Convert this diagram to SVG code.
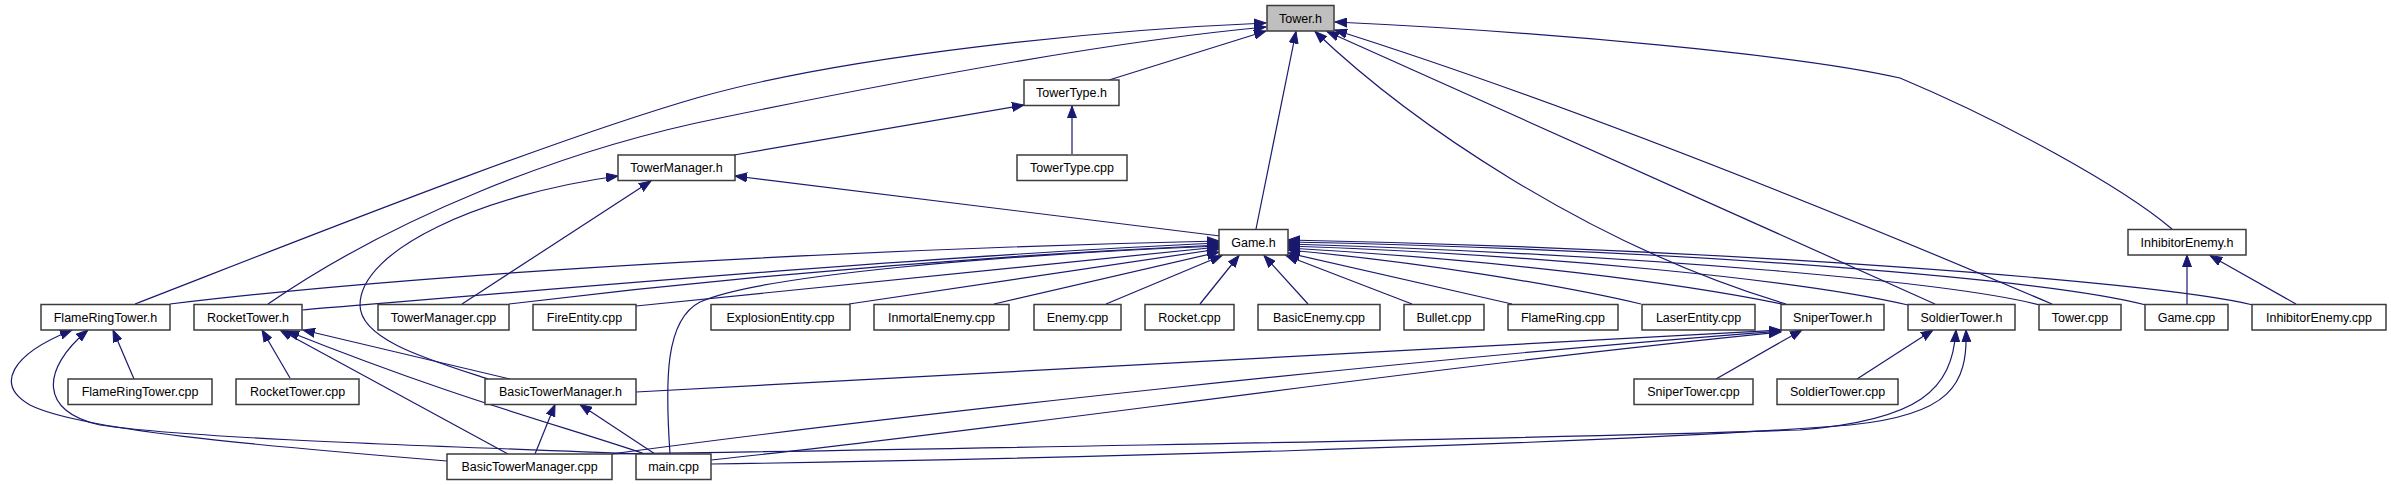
<svg xmlns="http://www.w3.org/2000/svg" width="2391" height="485" viewBox="0 0 2391 485">
<style>
.n rect{fill:#fff;stroke:#3c3c3c;stroke-width:1.5}
.n.root rect{fill:#bfbfbf}
.n text{font-family:"Liberation Sans",Arial,sans-serif;font-size:12.5px;text-anchor:middle;fill:#000}
#edges path{fill:none;stroke:#191970;stroke-width:1.2;marker-end:url(#ah)}
</style>
<defs>
<marker id="ah" markerUnits="userSpaceOnUse" markerWidth="13" markerHeight="10" viewBox="0 0 13 10" refX="12" refY="5" orient="auto">
<path d="M0,0.5 L12,5 L0,9.5 z" fill="#191970" stroke="#191970" stroke-width="1"/>
</marker>
</defs>
<rect width="2391" height="485" fill="#fff"/>
<g id="edges">
<path d="M135,304 C300,240 550,140 700,97 C850,55 1100,30 1266,23"/>
<path d="M268,304 C390,220 560,150 720,118 C880,85 1100,42 1266,27"/>
<path d="M1109,80 L1266,31"/>
<path d="M1256,229 L1296,31.5"/>
<path d="M1786,304 C1586,244 1408,120 1315,31.5"/>
<path d="M1935,304 L1327,31.5"/>
<path d="M2052,304 Q1620,120 1335,30"/>
<path d="M2172,229 C2120,185 2000,120 1900,78 C1800,55 1550,32 1335,22"/>
<path d="M734,155 L1024,105"/>
<path d="M1072,154 L1072,106"/>
<path d="M1220,236 L735,176"/>
<path d="M462,304 L651,181"/>
<path d="M488,379 C430,360 360,340 360,305 C360,250 480,195 618,176"/>
<path d="M2187,304 L2187,255"/>
<path d="M2296,304 L2210,255.5"/>
<path d="M170,304 C450,270 900,248 1219,241"/>
<path d="M302,310 C600,285 950,255 1219,243"/>
<path d="M509,304 C750,275 1000,255 1219,245"/>
<path d="M636,306 L1219,247"/>
<path d="M670,454 C665,380 665,320 700,302 C760,275 1000,255 1219,246"/>
<path d="M849,304 L1219,249"/>
<path d="M994,304 L1219,252"/>
<path d="M1106,304 L1222,255.5"/>
<path d="M1200,304 L1239,255.5"/>
<path d="M1308,304 L1264,255.5"/>
<path d="M1412,304 L1286,255.5"/>
<path d="M1512,304 L1288,253"/>
<path d="M1641,304 C1560,285 1420,262 1288,250"/>
<path d="M1782,304 C1680,283 1500,260 1288,248"/>
<path d="M1908,305 C1800,280 1550,255 1288,246"/>
<path d="M2040,305 C1950,282 1650,255 1288,244"/>
<path d="M2146,305 C2050,280 1700,250 1288,242"/>
<path d="M2253,305 C2150,280 1700,248 1288,240"/>
<path d="M1716,379 L1802,330"/>
<path d="M636,392 L1781,330"/>
<path d="M611,454 C900,415 1400,360 1781,331"/>
<path d="M711,460 C1000,430 1400,370 1781,332"/>
<path d="M1857,379 L1933,330"/>
<path d="M612,454 C750,452 1500,440 1800,430 C1920,420 1952,390 1956,330"/>
<path d="M711,464 C1000,460 1600,445 1850,425 C1950,415 1968,385 1966,330"/>
<path d="M134,379 L113,330"/>
<path d="M447,461 C250,445 80,430 30,405 C-5,385 10,355 72,330"/>
<path d="M640,454 C500,448 200,440 100,425 C40,412 40,370 88,330"/>
<path d="M290,378 L262,330"/>
<path d="M508,454 L280,330"/>
<path d="M645,454 C560,425 460,400 287,331"/>
<path d="M510,379 L303,330"/>
<path d="M535,454 L555,404.5"/>
<path d="M655,454 L580,404.5"/>
</g>
<g id="tower_h" class="n root"><rect x="1267" y="5.5" width="67" height="25.5"/><text x="1300.5" y="22.5">Tower.h</text></g>
<g id="towertype_h" class="n"><rect x="1024" y="80" width="95" height="25.5"/><text x="1071.5" y="97">TowerType.h</text></g>
<g id="towermanager_h" class="n"><rect x="618" y="155" width="117" height="25.5"/><text x="676.5" y="172">TowerManager.h</text></g>
<g id="towertype_cpp" class="n"><rect x="1017" y="155" width="110" height="25.5"/><text x="1072" y="172">TowerType.cpp</text></g>
<g id="game_h" class="n"><rect x="1219" y="229.5" width="69" height="25.5"/><text x="1253.5" y="246.5">Game.h</text></g>
<g id="inhibitorenemy_h" class="n"><rect x="2128" y="229.5" width="118" height="25.5"/><text x="2187" y="246.5">InhibitorEnemy.h</text></g>
<g id="flameringtower_h" class="n"><rect x="41" y="304.5" width="129" height="25.5"/><text x="105.5" y="321.5">FlameRingTower.h</text></g>
<g id="rockettower_h" class="n"><rect x="194" y="304.5" width="108" height="25.5"/><text x="248" y="321.5">RocketTower.h</text></g>
<g id="towermanager_cpp" class="n"><rect x="378" y="304.5" width="131" height="25.5"/><text x="443.5" y="321.5">TowerManager.cpp</text></g>
<g id="fireentity_cpp" class="n"><rect x="533" y="304.5" width="103" height="25.5"/><text x="584.5" y="321.5">FireEntity.cpp</text></g>
<g id="explosionentity_cpp" class="n"><rect x="711" y="304.5" width="139" height="25.5"/><text x="780.5" y="321.5">ExplosionEntity.cpp</text></g>
<g id="inmortalenemy_cpp" class="n"><rect x="874" y="304.5" width="135" height="25.5"/><text x="941.5" y="321.5">InmortalEnemy.cpp</text></g>
<g id="enemy_cpp" class="n"><rect x="1034" y="304.5" width="87" height="25.5"/><text x="1077.5" y="321.5">Enemy.cpp</text></g>
<g id="rocket_cpp" class="n"><rect x="1145" y="304.5" width="89" height="25.5"/><text x="1189.5" y="321.5">Rocket.cpp</text></g>
<g id="basicenemy_cpp" class="n"><rect x="1258" y="304.5" width="122" height="25.5"/><text x="1319" y="321.5">BasicEnemy.cpp</text></g>
<g id="bullet_cpp" class="n"><rect x="1404" y="304.5" width="80" height="25.5"/><text x="1444" y="321.5">Bullet.cpp</text></g>
<g id="flamering_cpp" class="n"><rect x="1508" y="304.5" width="110" height="25.5"/><text x="1563" y="321.5">FlameRing.cpp</text></g>
<g id="laserentity_cpp" class="n"><rect x="1642" y="304.5" width="113" height="25.5"/><text x="1698.5" y="321.5">LaserEntity.cpp</text></g>
<g id="snipertower_h" class="n"><rect x="1781" y="304.5" width="103" height="25.5"/><text x="1832.5" y="321.5">SniperTower.h</text></g>
<g id="soldiertower_h" class="n"><rect x="1908" y="304.5" width="107" height="25.5"/><text x="1961.5" y="321.5">SoldierTower.h</text></g>
<g id="tower_cpp" class="n"><rect x="2039" y="304.5" width="82" height="25.5"/><text x="2080" y="321.5">Tower.cpp</text></g>
<g id="game_cpp" class="n"><rect x="2145" y="304.5" width="83" height="25.5"/><text x="2186.5" y="321.5">Game.cpp</text></g>
<g id="inhibitorenemy_cpp" class="n"><rect x="2252" y="304.5" width="134" height="25.5"/><text x="2319" y="321.5">InhibitorEnemy.cpp</text></g>
<g id="flameringtower_cpp" class="n"><rect x="68" y="379" width="144" height="25.5"/><text x="140" y="396">FlameRingTower.cpp</text></g>
<g id="rockettower_cpp" class="n"><rect x="236" y="379" width="123" height="25.5"/><text x="297.5" y="396">RocketTower.cpp</text></g>
<g id="basictowermanager_h" class="n"><rect x="485" y="379" width="151" height="25.5"/><text x="560.5" y="396">BasicTowerManager.h</text></g>
<g id="snipertower_cpp" class="n"><rect x="1634" y="379" width="119" height="25.5"/><text x="1693.5" y="396">SniperTower.cpp</text></g>
<g id="soldiertower_cpp" class="n"><rect x="1777" y="379" width="121" height="25.5"/><text x="1837.5" y="396">SoldierTower.cpp</text></g>
<g id="basictowermanager_cpp" class="n"><rect x="447" y="454" width="165" height="25.5"/><text x="529.5" y="471">BasicTowerManager.cpp</text></g>
<g id="main_cpp" class="n"><rect x="636" y="454" width="75" height="25.5"/><text x="673.5" y="471">main.cpp</text></g>
</svg>
